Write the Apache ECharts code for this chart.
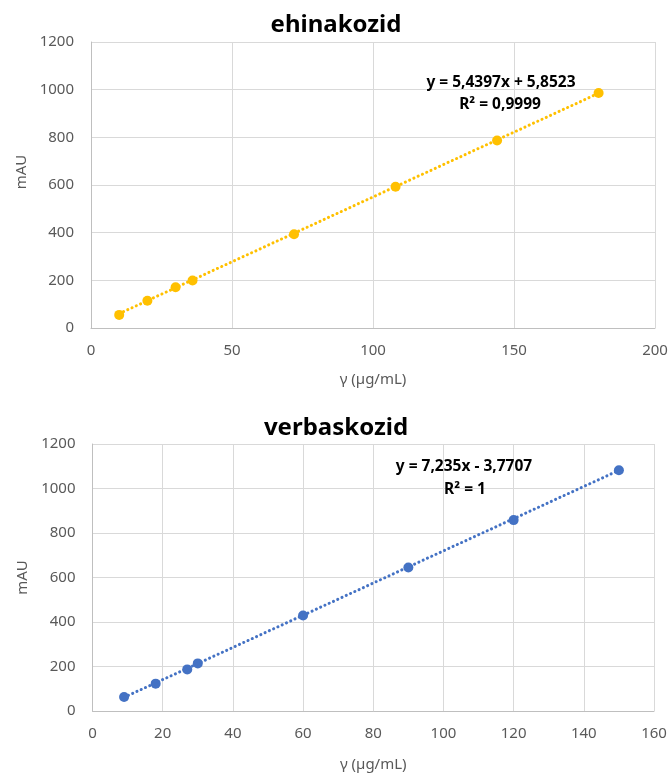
<!DOCTYPE html>
<html>
<head>
<meta charset="utf-8">
<style>
  html, body { margin: 0; padding: 0; background: #ffffff; }
  #chart { width: 672px; height: 776px; }
</style>
<script src="https://cdn.jsdelivr.net/npm/echarts@6/dist/echarts.min.js"></script>
</head>
<body>
<div id="chart"></div>
<script>
// ---- data ----
const titles = ['ehinakozid', 'verbaskozid'];
const ehinX = [10, 20, 30, 36, 72, 108, 144, 180];
const ehinY = [55, 114, 171, 199, 393, 593, 787, 986];
const verbX = [9, 18, 27, 30, 60, 90, 120, 150];
const verbY = [63, 123, 187, 214, 429, 645, 858, 1082];
// trendline coefficients as shown on the chart [slope, intercept]
const ehinTrend = [5.4397, 5.8523];
const verbTrend = [7.235, -3.7707];
const ehinEqText = ['y = 5,4397x + 5,8523', 'R² = 0,9999'];
const verbEqText = ['y = 7,235x - 3,7707', 'R² = 1'];
const ehinXTicks = [0, 50, 100, 150, 200];
const verbXTicks = [0, 20, 40, 60, 80, 100, 120, 140, 160];
const yTicks = [0, 200, 400, 600, 800, 1000, 1200];
const xName = 'γ (µg/mL)';
const yName = 'mAU';

const FONT = 'Noto Sans';
const LABEL = '#595959';
const GRIDC = '#D9D9D9';

function pairs(xs, ys) { return xs.map((x, i) => [x, ys[i]]); }
function trend(xs, c) {
  const lo = Math.min.apply(null, xs), hi = Math.max.apply(null, xs);
  return [[lo, c[0] * lo + c[1]], [hi, c[0] * hi + c[1]]];
}
function plain(v) { return String(v); }
function xAxis(idx, ticks, gap) {
  return {
    type: 'value', gridIndex: idx,
    min: ticks[0], max: ticks[ticks.length - 1], interval: ticks[1] - ticks[0],
    name: xName, nameLocation: 'middle', nameGap: gap,
    nameTextStyle: { color: LABEL, fontFamily: FONT, fontSize: 15 },
    axisLine: { show: true, lineStyle: { color: '#BFBFBF', width: 1 } },
    axisTick: { show: false },
    axisLabel: { color: LABEL, fontFamily: FONT, fontSize: 15, margin: 15, formatter: plain },
    splitLine: { show: true, lineStyle: { color: GRIDC, width: 1 } }
  };
}
function yAxis(idx, gap, pad) {
  return {
    type: 'value', gridIndex: idx,
    min: yTicks[0], max: yTicks[yTicks.length - 1], interval: yTicks[1] - yTicks[0],
    name: yName, nameLocation: 'middle', nameGap: gap,
    nameTextStyle: { color: LABEL, fontFamily: FONT, fontSize: 15, padding: pad },
    axisLine: { show: true, lineStyle: { color: '#BFBFBF', width: 1 } },
    axisTick: { show: false },
    axisLabel: { color: LABEL, fontFamily: FONT, fontSize: 15, margin: 17, formatter: plain },
    splitLine: { show: true, lineStyle: { color: GRIDC, width: 1 } }
  };
}
const dotLine = (c) => ({ color: c, width: 3, type: [0.1, 4.6], cap: 'round' });
const eqFont = 'bold 15.5px "Noto Sans"';

const chart = echarts.init(document.getElementById('chart'), null, { renderer: 'canvas' });
chart.setOption({
  backgroundColor: '#ffffff',
  animation: false,
  title: [
    { text: titles[0], left: 'center', top: 8,
      textStyle: { fontFamily: FONT, fontSize: 24, fontWeight: 'bold', color: '#000' } },
    { text: titles[1], left: 'center', top: 411,
      textStyle: { fontFamily: FONT, fontSize: 24, fontWeight: 'bold', color: '#000' } }
  ],
  grid: [
    { left: 91, right: 17, top: 42, height: 286 },
    { left: 92.5, right: 18, top: 444, height: 267 }
  ],
  xAxis: [xAxis(0, ehinXTicks, 44), xAxis(1, verbXTicks, 46)],
  yAxis: [yAxis(0, 60, [0, 0, 0, 26]), yAxis(1, 62, 0)],
  series: [
    { type: 'line', xAxisIndex: 0, yAxisIndex: 0, data: trend(ehinX, ehinTrend),
      symbol: 'none', silent: true, lineStyle: dotLine('#FFC000') },
    { type: 'scatter', xAxisIndex: 0, yAxisIndex: 0, data: pairs(ehinX, ehinY),
      symbolSize: 10, itemStyle: { color: '#FFC000', opacity: 1 } },
    { type: 'line', xAxisIndex: 1, yAxisIndex: 1, data: trend(verbX, verbTrend),
      symbol: 'none', silent: true, lineStyle: dotLine('#4472C4') },
    { type: 'scatter', xAxisIndex: 1, yAxisIndex: 1, data: pairs(verbX, verbY),
      symbolSize: 10, itemStyle: { color: '#4472C4', opacity: 1 } }
  ],
  graphic: [
    { type: 'text', x: 501, y: 83, z: 100, style: { text: ehinEqText[0], align: 'center', verticalAlign: 'middle', font: eqFont, fill: '#000' } },
    { type: 'text', x: 500, y: 105, z: 100, style: { text: ehinEqText[1], align: 'center', verticalAlign: 'middle', font: eqFont, fill: '#000' } },
    { type: 'text', x: 464, y: 467, z: 100, style: { text: verbEqText[0], align: 'center', verticalAlign: 'middle', font: eqFont, fill: '#000' } },
    { type: 'text', x: 465, y: 490, z: 100, style: { text: verbEqText[1], align: 'center', verticalAlign: 'middle', font: eqFont, fill: '#000' } }
  ]
});
</script>
</body>
</html>
